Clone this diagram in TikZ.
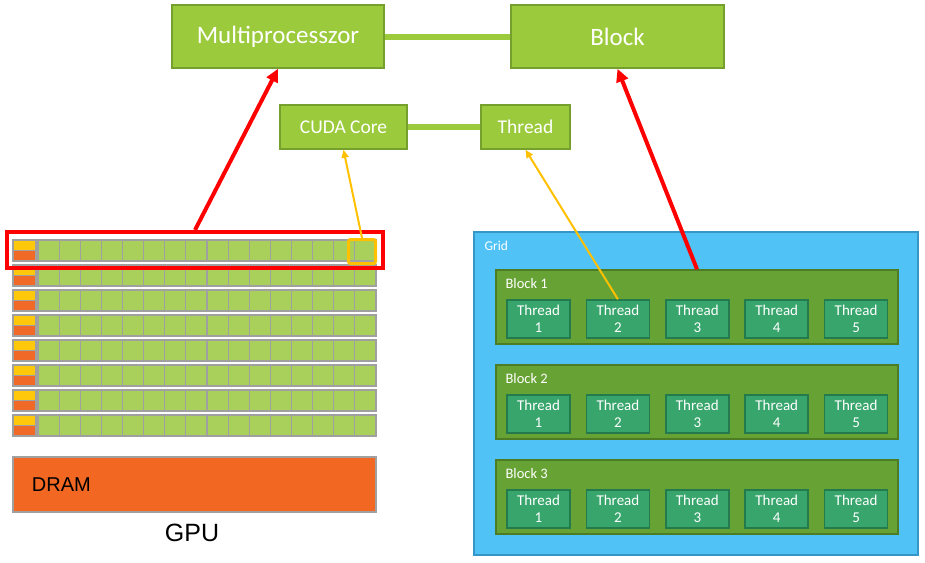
\documentclass[tikz,border=0pt]{standalone}
\usepackage{fontspec}
\setmainfont{Carlito}
\newfontfamily\arialfont{Liberation Sans}
\usepackage{tikz}
\usetikzlibrary{arrows.meta}
\definecolor{topgreen}{RGB}{155,203,60}
\definecolor{topedge}{RGB}{117,160,45}
\definecolor{cellgreen}{RGB}{168,208,90}
\definecolor{cellgray}{RGB}{160,160,160}
\definecolor{cellyellow}{RGB}{255,200,10}
\definecolor{cellorange}{RGB}{240,105,38}
\definecolor{dramorange}{RGB}{242,103,34}
\definecolor{gridblue}{RGB}{80,194,245}
\definecolor{gridedge}{RGB}{55,150,200}
\definecolor{blockgreen}{RGB}{102,162,52}
\definecolor{blockedge}{RGB}{78,124,37}
\definecolor{threadgreen}{RGB}{56,166,108}
\definecolor{threadedge}{RGB}{35,122,76}
\definecolor{markred}{RGB}{255,0,0}
\definecolor{markyellow}{RGB}{255,192,0}

\begin{document}
\begin{tikzpicture}[x=1pt, y=-1pt,
  topbox/.style={draw=topedge, fill=topgreen, line width=1.5, text=white},
  link/.style={topgreen, line width=6},
  cell/.style={draw=cellgray, fill=cellgreen, line width=1.2},
  blockbox/.style={draw=blockedge, fill=blockgreen, line width=1.5, minimum width=402, minimum height=74},
  threadbox/.style={draw=threadedge, fill=threadgreen, line width=1.5, minimum width=63, minimum height=38,
    inner sep=0, text=white, align=center, font=\fontsize{15}{17}\selectfont},
  redarrow/.style={markred, line width=4, -{Triangle[length=13pt,width=12pt]}},
  yellowarrow/.style={markyellow, line width=2, -{Triangle[length=8pt,width=7pt]}}]
\useasboundingbox (0,0) rectangle (925,562);

\node (mp) [topbox, minimum width=212, minimum height=63, font=\fontsize{25}{29}\selectfont] at (278,36.5) {Multiprocesszor};
\node (blk) [topbox, minimum width=213, minimum height=63, font=\fontsize{25}{29}\selectfont] at (617.5,36.5) {Block};
\node (cuda) [topbox, minimum width=127, minimum height=44, font=\fontsize{19.5}{22}\selectfont] at (343.5,127) {CUDA Core};
\node (thtop) [topbox, minimum width=89, minimum height=44, font=\fontsize{19.5}{22}\selectfont] at (525.5,127) {Thread};
\draw[link] (mp) -- (blk);
\draw[link] (cuda) -- (thtop);

\foreach \r in {0,...,7} {
  \pgfmathsetmacro\ry{240+25*\r}
  \fill[cellyellow] (13,\ry) rectangle (36,\ry+10.5);
  \fill[cellorange] (13,\ry+10.5) rectangle (36,\ry+21);
  \draw[cellgray, line width=1.2] (13,\ry) rectangle (36,\ry+21) (13,\ry+10.5) -- (36,\ry+10.5);
  \foreach \c in {0,...,15}
    \draw[cell] (38+21.125*\c,\ry) rectangle ++(21.125,21);
}
\node (dram) [draw=cellgray, fill=dramorange, line width=1.2, minimum width=363, minimum height=55] at (194.5,484.5) {};
\node (dramtext) [anchor=west, font=\arialfont\fontsize{20}{24}\selectfont] at ([xshift=16]dram.west) {DRAM};
\node (gpu) [font=\arialfont\fontsize{25}{30}\selectfont] at (192,533) {GPU};

\node (smbox) [draw=markred, line width=4, minimum width=376, minimum height=36] at (195,250) {};
\node (corebox) [draw=markyellow, line width=3, rounded corners=2, minimum width=27, minimum height=24] at (362,251.5) {};

\node (grid) [draw=gridedge, fill=gridblue, line width=1.5, minimum width=444, minimum height=323] at (696,393.5) {};
\node (gridlabel) [anchor=west, text=white, font=\fontsize{13.5}{16}\selectfont] at (481,246) {Grid};
\foreach \b in {1,2,3} {
  \node (blk\b) [blockbox] at (697,{307+95*(\b-1)}) {};
  \node (blklabel\b) [anchor=west, text=white, font=\fontsize{14.5}{17}\selectfont] at (502,{284+95*(\b-1)}) {Block \b};
  \foreach \t in {1,...,5}
    \node (th\b\t) [threadbox] at ({538.5+79.4*(\t-1)},{319+95*(\b-1)}) {Thread\\\t};
}

\draw[redarrow] (smbox.north) -- (mp.south);
\draw[yellowarrow] (corebox.north) -- (cuda.south);
\draw[yellowarrow] (th12.north) -- (thtop.south);
\draw[redarrow] (blk1.north) -- (blk.south);
\end{tikzpicture}
\end{document}
